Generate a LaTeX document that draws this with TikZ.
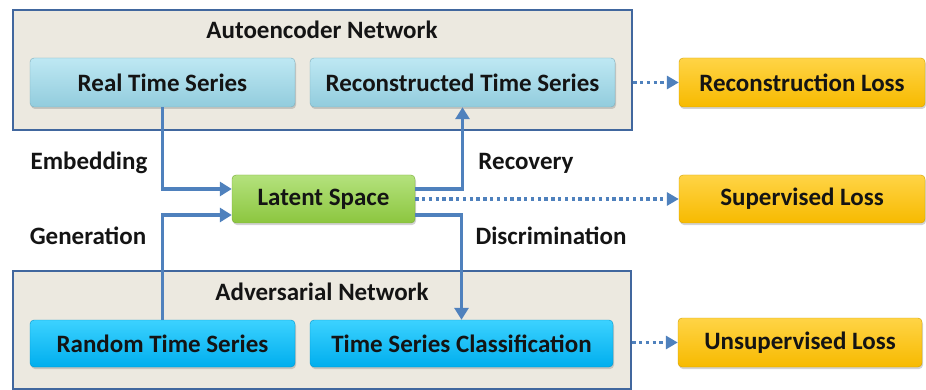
\documentclass[tikz,border=0pt]{standalone}
\usepackage{fontspec}
\setmainfont{Carlito}
\usetikzlibrary{shadows,arrows.meta}
\definecolor{framefill}{RGB}{236,233,224}
\definecolor{frameline}{RGB}{65,103,158}
\definecolor{conncol}{RGB}{79,129,189}
\definecolor{ltop}{RGB}{190,232,243}
\definecolor{lbot}{RGB}{146,204,221}
\definecolor{ctop}{RGB}{60,210,255}
\definecolor{cbot}{RGB}{0,174,238}
\definecolor{gtop}{RGB}{180,226,125}
\definecolor{gbot}{RGB}{140,198,63}
\definecolor{ytop}{RGB}{255,212,70}
\definecolor{ybot}{RGB}{247,186,0}
\definecolor{txt}{RGB}{20,20,20}
\begin{document}
\begin{tikzpicture}[x=1pt,y=-1pt,
  every node/.style={font=\fontsize{25}{29}\selectfont\bfseries, text=txt},
  frame/.style={draw=frameline, line width=2.4pt, fill=framefill, inner sep=0},
  box/.style={rounded corners=4pt, inner sep=0, minimum height=49pt,
    drop shadow={shadow xshift=1pt, shadow yshift=-2pt, opacity=0.35}},
  lblue/.style={box, top color=ltop, bottom color=lbot, draw=lbot!85!black, line width=0.4pt},
  cyanbox/.style={box, top color=ctop, bottom color=cbot, draw=cbot!85!black, line width=0.4pt},
  greenbox/.style={box, top color=gtop, bottom color=gbot, draw=gbot!85!black, line width=0.4pt},
  goldbox/.style={box, top color=ytop, bottom color=ybot, draw=ybot!85!black, line width=0.4pt},
  conn/.style={draw=conncol, line width=3.6pt, -{Triangle[length=12pt,width=14pt]}},
  dotconn/.style={draw=conncol, line width=3.4pt, dash pattern=on 3.4pt off 3.4pt, -{Triangle[length=12pt,width=13pt]}},
  lbl/.style={inner sep=0}
]
\useasboundingbox (0,0) rectangle (926,390);
% frames
\node[frame, minimum width=619pt, minimum height=120pt] (ae) at (322.5,70) {};
\node[frame, minimum width=618pt, minimum height=118pt] (adv) at (322,330) {};
\node[lbl] (aetitle) at (322,30) {Autoencoder Network};
\node[lbl] (advtitle) at (322,292) {Adversarial Network};
% boxes
\node[lblue, minimum width=265pt] (real) at (162.5,82.5) {Real Time Series};
\node[lblue, minimum width=305pt] (recon) at (462.5,82.5) {Reconstructed Time Series};
\node[greenbox, minimum width=183pt, minimum height=48pt] (latent) at (323.5,199) {Latent Space};
\node[cyanbox, minimum width=265pt, minimum height=47pt] (rand) at (162.5,343.5) {Random Time Series};
\node[cyanbox, minimum width=303pt, minimum height=47pt] (cls) at (461.5,343.5) {Time Series Classification};
\node[goldbox, minimum width=246pt] (rloss) at (802,82.5) {Reconstruction Loss};
\node[goldbox, minimum width=246pt, minimum height=48pt] (sloss) at (802,199) {Supervised Loss};
\node[goldbox, minimum width=244pt] (uloss) at (800,342.5) {Unsupervised Loss};
% labels
\node[lbl] (emb) at (89,163) {Embedding};
\node[lbl] (gen) at (88,236) {Generation};
\node[lbl] (rec) at (526,163) {Recovery};
\node[lbl] (dis) at (551,236) {Discrimination};
% connectors
\draw[conn] (real.south) |- ([yshift=10pt]latent.west);
\draw[conn] (rand.north) |- ([yshift=-16pt]latent.west);
\draw[conn] ([yshift=10pt]latent.east) -| (recon.south);
\draw[conn] ([yshift=-16pt]latent.east) -| (cls.north);
\draw[dotconn] (latent.east) -- (sloss.west);
\draw[dotconn] (ae.east |- rloss.west) -- (rloss.west);
\draw[dotconn] (adv.east |- uloss.west) -- (uloss.west);
\end{tikzpicture}
\end{document}
